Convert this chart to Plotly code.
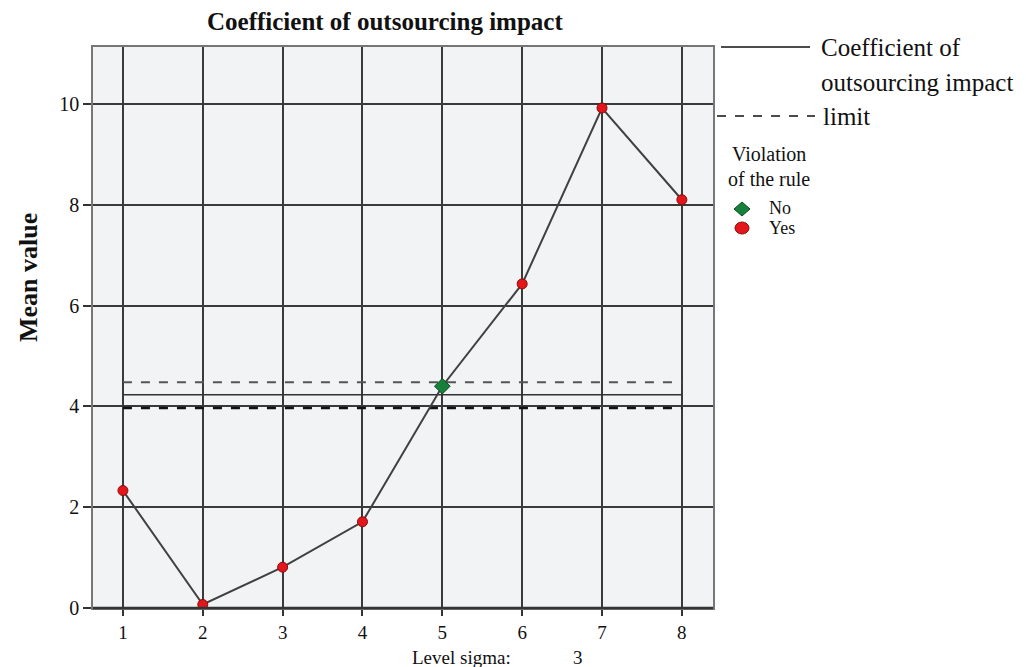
import plotly.graph_objects as go

levels = [1, 2, 3, 4, 5, 6, 7, 8]
mean_values = [2.33, 0.07, 0.81, 1.71, 4.40, 6.43, 9.92, 8.10]
violation = ["Yes", "Yes", "Yes", "Yes", "No", "Yes", "Yes", "Yes"]
center_line = 4.23
upper_limit = 4.48
lower_limit = 3.97
y_ticks = [0, 2, 4, 6, 8, 10]
sigma_level = 3

SERIF = "Liberation Serif, Times New Roman, serif"
L, R, T, B = 93, 313, 47, 59
W, H = 1026, 667
PW, PH = W - L - R, H - T - B

def px(xp):
    return (xp - L) / PW

def py(yp):
    return (H - B - yp) / PH

fig = go.Figure()

# limit and center lines across the level range
xs = [levels[0], levels[-1]]
fig.add_trace(go.Scatter(x=xs, y=[upper_limit] * 2, mode="lines",
                         line=dict(color="#555555", width=2, dash="dash"), hoverinfo="skip"))
fig.add_trace(go.Scatter(x=xs, y=[center_line] * 2, mode="lines",
                         line=dict(color="#333333", width=1.5), hoverinfo="skip"))
fig.add_trace(go.Scatter(x=xs, y=[lower_limit] * 2, mode="lines",
                         line=dict(color="#111111", width=2.5, dash="dash"), hoverinfo="skip"))

# data line
fig.add_trace(go.Scatter(x=levels, y=mean_values, mode="lines",
                         line=dict(color="#404040", width=2), hoverinfo="skip"))

yes_x = [l for l, v in zip(levels, violation) if v == "Yes"]
yes_y = [m for m, v in zip(mean_values, violation) if v == "Yes"]
no_x = [l for l, v in zip(levels, violation) if v == "No"]
no_y = [m for m, v in zip(mean_values, violation) if v == "No"]

fig.add_trace(go.Scatter(x=yes_x, y=yes_y, mode="markers",
                         marker=dict(symbol="circle", size=10, color="#e3161b",
                                     line=dict(color="#8a0a0a", width=1))))
fig.add_trace(go.Scatter(x=no_x, y=no_y, mode="markers",
                         marker=dict(symbol="diamond", size=12, color="#17803a",
                                     line=dict(color="#0b4a1f", width=1))))

shapes = []
annotations = []

def txt(s, x, y, size, xanchor="left", bold=False, angle=0):
    annotations.append(dict(text=f"<b>{s}</b>" if bold else s, x=px(x), y=py(y),
                            xref="paper", yref="paper", xanchor=xanchor, yanchor="middle",
                            showarrow=False, textangle=angle,
                            font=dict(family=SERIF, size=size, color="#111111")))

# custom legend
shapes.append(dict(type="line", xref="paper", yref="paper",
                   x0=px(721), x1=px(810), y0=py(47), y1=py(47),
                   line=dict(color="#111111", width=1.5)))
shapes.append(dict(type="line", xref="paper", yref="paper",
                   x0=px(717), x1=px(815), y0=py(116), y1=py(116),
                   line=dict(color="#111111", width=1.5, dash="dash")))
txt("Coefficient of", 819, 47, 25)
txt("outsourcing impact", 819, 82, 25)
txt("limit", 821, 116, 25)
txt("Violation", 769, 154, 20, xanchor="center")
txt("of the rule", 769, 179, 20, xanchor="center")
txt("No", 767, 208, 18)
txt("Yes", 767, 228, 18)

shapes.append(dict(type="path", xref="paper", yref="paper",
                   xsizemode="pixel", ysizemode="pixel",
                   xanchor=px(742), yanchor=py(209),
                   path="M -8,0 L 0,7 L 8,0 L 0,-7 Z",
                   fillcolor="#17803a", line=dict(color="#0b4a1f", width=1)))
shapes.append(dict(type="circle", xref="paper", yref="paper",
                   xsizemode="pixel", ysizemode="pixel",
                   xanchor=px(742), yanchor=py(228),
                   x0=-7, x1=7, y0=-6, y1=6,
                   fillcolor="#e3161b", line=dict(color="#8a0a0a", width=1)))

# bottom axis line
shapes.append(dict(type="line", xref="paper", yref="paper", x0=0, x1=1, y0=0, y1=0,
                   line=dict(color="#333333", width=2.5)))

txt("Coefficient of outsourcing impact", 385, 22, 25, xanchor="center", bold=True)
txt("Mean value", 28, 278, 26, xanchor="center", bold=True, angle=-90)
txt("Level sigma:", 461, 657, 19, xanchor="center")
txt(str(sigma_level), 578, 657, 19, xanchor="center")

fig.update_layout(
    width=W, height=H,
    margin=dict(l=L, r=R, t=T, b=B),
    paper_bgcolor="white",
    plot_bgcolor="#f2f3f5",
    showlegend=False,
    shapes=shapes,
    annotations=annotations,
)
fig.update_xaxes(range=[0.625, 8.39], tickmode="array", tickvals=levels,
                 showgrid=True, gridcolor="#3a3a3a", gridwidth=1.5,
                 ticks="outside", ticklen=6, tickcolor="#333333", tickwidth=1.5,
                 showline=True, linecolor="#777777", linewidth=1.5, mirror=True,
                 zeroline=False,
                 tickfont=dict(family=SERIF, size=19, color="#111111"))
fig.update_yaxes(range=[0, 11.13], tickmode="array", tickvals=y_ticks,
                 showgrid=True, gridcolor="#3a3a3a", gridwidth=1.5,
                 ticks="outside", ticklen=8, tickcolor="#333333", tickwidth=1.5,
                 showline=True, linecolor="#777777", linewidth=1.5, mirror=True,
                 zeroline=False,
                 tickfont=dict(family=SERIF, size=20, color="#111111"))

fig.write_html("out.html", config={"displayModeBar": False},
               post_script="document.body.style.margin='0px';")
